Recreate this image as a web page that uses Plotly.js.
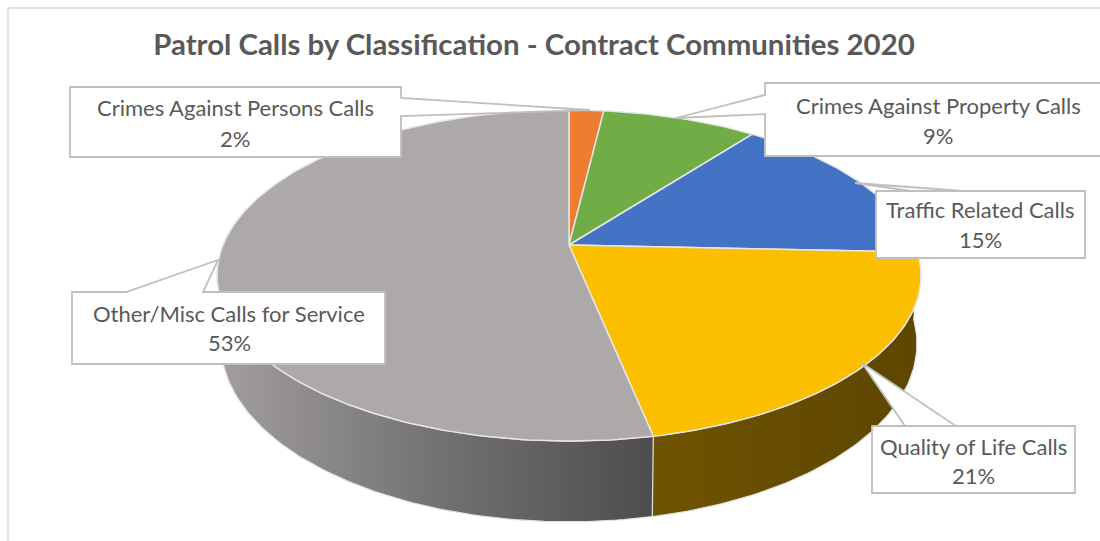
<!DOCTYPE html>
<html>
<head>
<meta charset="utf-8">
<script src="https://cdn.plot.ly/plotly-3.0.1.min.js"></script>
<style>html,body{margin:0;padding:0;background:#fff}#chart{width:1100px;height:541px}</style>
</head>
<body>
<div id="chart"></div>
<script>
// Data
const chartTitle = 'Patrol Calls by Classification - Contract Communities 2020';
const categories = ['Crimes Against Persons Calls', 'Crimes Against Property Calls', 'Traffic Related Calls', 'Quality of Life Calls', 'Other/Misc Calls for Service'];
const shares = [1.9, 8.5, 15.3, 21.1, 53.2];

// Style
const topColors = ['#ED7D31', '#70AD47', '#4472C4', '#FBBF00', '#ADA9A8'];
const wallScales = [null, null, null,
  [[0, '#6E5300'], [1, '#5E4600']],
  [[0, '#A09D9C'], [0.5, '#737171'], [1, '#4E4C4D']]];
const wallSpans = [null, null, null, null, [226, 652]];
const textColor = '#595959';
const boxLine = '#BFBFBF';
const fontName = 'Lato, Carlito, Calibri, sans-serif';

// Projection of the tilted disc (pixel axes)
const topDisc = {cx: 569, cy: 245, a: 346, b: 160, k: 0.184};
const baseDisc = {cx: 569, cy: 311, a: 342, b: 172, k: 0.184};
function project(d, deg) {
  const t = deg * Math.PI / 180, u = Math.sin(t), v = Math.cos(t), w = 1 + d.k * v;
  return [d.cx + d.a * u / w, d.cy - d.b * v / w];
}
function arc(d, from, to) {
  const pts = [], n = Math.max(2, Math.ceil(Math.abs(to - from)));
  for (let i = 0; i <= n; i++) pts.push(project(d, from + (to - from) * i / n));
  return pts;
}

// Callouts: box, wedge tip and wedge feet on the box edge
const callouts = [
  {box: [70, 87, 401, 157], path: [[401, 98], [590, 110], [401, 116]], side: 'right', cx: 235, y1: 107, y2: 138},
  {box: [765, 83, 1111, 156], path: [[765, 95], [676, 118], [765, 114]], side: 'left', cx: 938, y1: 105, y2: 135},
  {box: [876, 191, 1085, 258], path: [[963, 191], [855, 183], [911, 191]], side: 'top', cx: 980, y1: 209, y2: 239},
  {box: [872, 426, 1075, 493], path: [[956, 426], [862, 363], [905, 426]], side: 'top', cx: 973, y1: 446, y2: 475},
  {box: [72, 292, 385, 364], path: [[126, 292], [218, 260], [203, 292]], side: 'top', cx: 229, y1: 313, y2: 342}
];
function calloutPath(c) {
  const [l, t, r, b] = c.box, [p, q, s] = c.path;
  const P = (a) => a[0] + ',' + a[1];
  const wedge = 'L' + P(p) + 'L' + P(q) + 'L' + P(s);
  if (c.side === 'top') return 'M' + l + ',' + t + wedge + 'L' + r + ',' + t + 'L' + r + ',' + b + 'L' + l + ',' + b + 'Z';
  if (c.side === 'left') return 'M' + l + ',' + t + 'L' + r + ',' + t + 'L' + r + ',' + b + 'L' + l + ',' + b + 'L' + s[0] + ',' + s[1] + 'L' + q[0] + ',' + q[1] + 'L' + p[0] + ',' + p[1] + 'Z';
  return 'M' + l + ',' + t + 'L' + r + ',' + t + wedge + 'L' + r + ',' + b + 'L' + l + ',' + b + 'Z';
}

// Traces
const bounds = [0];
shares.forEach(s => bounds.push(bounds[bounds.length - 1] + s));
const total = bounds[bounds.length - 1];
const deg = bounds.map(b => b / total * 360);
const traces = [];

// Walls, rear-most first
[4, 3].forEach(i => {
  const from = Math.max(deg[i], 90), to = Math.min(deg[i + 1], 282);
  const pts = arc(topDisc, from, to).concat(arc(baseDisc, to, from));
  const grad = {type: 'horizontal', colorscale: wallScales[i]};
  if (wallSpans[i]) { grad.start = wallSpans[i][0]; grad.stop = wallSpans[i][1]; }
  traces.push({
    type: 'scatter', mode: 'lines', fill: 'toself', fillgradient: grad,
    x: pts.map(p => p[0]), y: pts.map(p => p[1]),
    line: {color: '#E2E2E2', width: 1.2}, hoverinfo: 'skip', showlegend: false
  });
});

// Top faces
shares.forEach((s, i) => {
  const pts = [[topDisc.cx, topDisc.cy]].concat(arc(topDisc, deg[i], deg[i + 1]));
  pts.push([topDisc.cx, topDisc.cy]);
  traces.push({
    type: 'scatter', mode: 'lines', fill: 'toself', fillcolor: topColors[i],
    x: pts.map(p => p[0]), y: pts.map(p => p[1]),
    line: {color: '#E6E6E6', width: 1.5}, name: categories[i], hoverinfo: 'name', showlegend: false
  });
});

// Shapes and text
const shapes = [
  {type: 'line', x0: 8, x1: 8, y0: 8, y1: 541, line: {color: '#D9D9D9', width: 1.5}},
  {type: 'line', x0: 8, x1: 1100, y0: 8, y1: 8, line: {color: '#D9D9D9', width: 1.5}}
].concat(callouts.map(c => ({
  type: 'path', path: calloutPath(c), fillcolor: '#FFFFFF', line: {color: boxLine, width: 1.8}, layer: 'above'
})));

const annotations = [];
categories.forEach((name, i) => {
  const c = callouts[i];
  [[name, c.y1], [Math.round(shares[i]) + '%', c.y2]].forEach(([text, y]) => annotations.push({
    text, x: c.cx, y, xref: 'x', yref: 'y', showarrow: false, xanchor: 'center', yanchor: 'middle',
    font: {family: fontName, size: 22, color: textColor}
  }));
});

const layout = {
  width: 1100, height: 541, margin: {l: 0, r: 0, t: 0, b: 0},
  paper_bgcolor: '#FFFFFF', plot_bgcolor: '#FFFFFF',
  title: {text: '<b>' + chartTitle + '</b>', x: 534 / 1100, y: 1 - 45 / 541, xanchor: 'center', yanchor: 'middle',
    xref: 'paper', yref: 'paper', font: {family: fontName, size: 29.4, color: textColor}},
  xaxis: {range: [0, 1100], visible: false, fixedrange: true},
  yaxis: {range: [541, 0], visible: false, fixedrange: true},
  shapes, annotations, showlegend: false
};
Plotly.newPlot('chart', traces, layout, {displayModeBar: false, staticPlot: true});
</script>
</body>
</html>
